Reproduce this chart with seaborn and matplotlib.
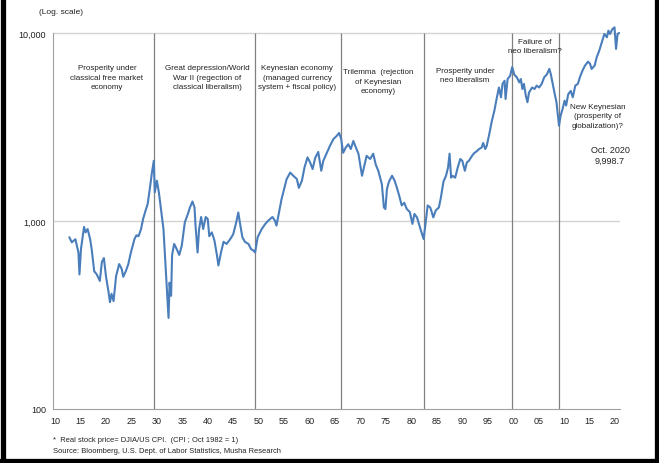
import matplotlib
matplotlib.use("Agg")
import matplotlib.pyplot as plt
import seaborn as sns
import pandas as pd

# real stock price (DJIA / US CPI)
years = [1912.8, 1913.3, 1914.0, 1914.6, 1914.8, 1915.1, 1915.7, 1916.0, 1916.4, 1916.9,
         1917.2, 1917.7, 1918.2, 1918.8, 1919.2, 1919.6, 1920.0, 1920.5, 1920.8, 1921.1,
         1921.5, 1922.0, 1922.6, 1923.1, 1923.4, 1923.9, 1924.4, 1924.9, 1925.6, 1926.0,
         1926.4, 1926.9, 1927.3, 1927.8, 1928.2, 1928.7, 1929.0, 1929.4, 1929.6, 1930.0,
         1930.4, 1930.8, 1931.3, 1931.6, 1931.9, 1932.3, 1932.5, 1932.8, 1933.0, 1933.4,
         1933.9, 1934.4, 1934.9, 1935.5, 1936.1, 1936.5, 1937.0, 1937.4, 1937.6, 1938.0,
         1938.3, 1938.7, 1939.1, 1939.6, 1940.0, 1940.3, 1940.8, 1941.3, 1941.8, 1942.1,
         1942.6, 1943.1, 1943.7, 1944.4, 1945.0, 1945.6, 1946.0, 1946.3, 1946.8, 1947.3,
         1948.0, 1948.5, 1949.0, 1949.3, 1949.8, 1950.6, 1951.3, 1951.9, 1952.7, 1953.2,
         1953.5, 1954.0, 1954.5, 1955.0, 1955.5, 1956.2, 1956.8, 1957.5, 1957.9, 1958.5,
         1959.0, 1959.6, 1960.1, 1960.6, 1961.1, 1961.7, 1962.3, 1962.7, 1963.4, 1964.0,
         1964.7, 1965.3, 1965.8, 1966.2, 1966.6, 1967.1, 1967.6, 1968.1, 1968.6, 1969.1,
         1969.6, 1970.3, 1970.8, 1971.2, 1971.9, 1972.5, 1973.0, 1973.5, 1974.2, 1974.6,
         1974.9, 1975.2, 1975.6, 1976.2, 1976.7, 1977.1, 1977.6, 1978.1, 1978.6, 1979.1,
         1979.7, 1980.2, 1980.6, 1981.1, 1981.9, 1982.4, 1982.7, 1983.2, 1983.7, 1984.0,
         1984.3, 1984.8, 1985.4, 1985.8, 1986.3, 1986.8, 1987.2, 1987.5, 1987.8, 1988.1,
         1988.6, 1989.1, 1989.6, 1990.0, 1990.5, 1990.9, 1991.3, 1991.9, 1992.4, 1992.8,
         1993.3, 1993.8, 1994.1, 1994.5, 1994.8, 1995.3, 1995.8, 1996.3, 1996.8, 1997.2,
         1997.6, 1997.9, 1998.3, 1998.5, 1998.9, 1999.4, 1999.8, 2000.2, 2000.7, 2001.2,
         2001.5, 2001.8, 2002.1, 2002.5, 2002.8, 2003.1, 2003.7, 2004.2, 2004.6, 2005.1,
         2005.6, 2006.1, 2006.6, 2007.1, 2007.4, 2007.7, 2008.1, 2008.5, 2008.8, 2009.0,
         2009.3, 2009.7, 2010.1, 2010.4, 2010.8, 2011.3, 2011.7, 2012.2, 2012.7, 2013.1,
         2013.6, 2014.1, 2014.7, 2015.1, 2015.4, 2016.0, 2016.4, 2016.9, 2017.4, 2017.9,
         2018.4, 2018.7, 2019.0, 2019.5, 2019.9, 2020.2, 2020.5, 2020.8]
price = [820, 770, 800, 680, 520, 710, 930, 870, 906, 800,
         709, 540, 520, 480, 605, 635, 510, 420, 370, 410,
         375, 510, 590, 556, 505, 540, 590, 680, 800, 840,
         830, 906, 1025, 1140, 1230, 1540, 1780, 2090, 1420, 1640,
         1420, 1160, 906, 660, 470, 305, 470, 400, 660, 755,
         709, 660, 740, 985, 1090, 1180, 1270, 1180, 945, 680,
         906, 1050, 906, 1050, 1025, 830, 870, 790, 660, 580,
         680, 775, 755, 800, 850, 985, 1110, 985, 820, 775,
         755, 709, 695, 680, 820, 906, 965, 1005, 1050, 1005,
         945, 1110, 1309, 1480, 1672, 1810, 1740, 1672, 1500, 1640,
         1925, 2180, 2050, 1890, 2165, 2330, 1850, 2090, 2305, 2510,
         2730, 2830, 2940, 2740, 2305, 2460, 2560, 2415, 2665, 2460,
         2280, 1740, 1995, 2220, 2137, 2280, 1995, 1850, 1570, 1180,
         1158, 1480, 1620, 1740, 1640, 1520, 1365, 1210, 1250, 1158,
         1115, 965, 1090, 1045, 885, 802, 930, 1210, 1180, 1115,
         1045, 1140, 1180, 1335, 1620, 1740, 1925, 2280, 1700, 1740,
         1700, 1925, 2137, 2090, 1850, 2050, 2090, 2220, 2305, 2345,
         2415, 2460, 2600, 2415, 2510, 2900, 3400, 3860, 4550, 5130,
         4550, 5365, 5570, 4455, 5690, 5915, 6590, 6010, 5820, 5460,
         5690, 5035, 5365, 4610, 4280, 4820, 5130, 5035, 5250, 5130,
         5365, 5820, 6010, 6440, 6010, 5460, 4820, 4280, 3620, 3210,
         3620, 3945, 4365, 4115, 4720, 4920, 4550, 5250, 5365, 5820,
         6300, 6710, 7040, 6850, 6440, 6710, 7430, 8050, 8930, 9880,
         9490, 10290, 9880, 10500, 10720, 8225, 9880, 10000]

era_breaks = [1929.4, 1949.3, 1966.2, 1982.5, 1999.8, 2009.0]
era_labels = ["Prosperity under\nclassical free market\neconomy",
              "Great depression/World\nWar II (regection of\nclassical liberalism)",
              "Keynesian economy\n(managed currency\nsystem + fiscal policy)",
              "Trilemma  (rejection\nof Keynesian\neconomy)",
              "Prosperity under\nneo liberalism",
              "Failure of\nneo liberalism?",
              "New Keynesian\n(prosperity of\nglobalization)?"]
# label centres in pixels of the 659x464 canvas
era_label_px = [(107, 78), (207, 78), (297, 78), (378, 82),
                (465, 76), (535, 47), (598, 117)]

xtick_years = list(range(1910, 2021, 5))
xtick_labels = [str(y)[2:] for y in xtick_years]
ytick_vals = [100, 1000, 10000]
ytick_labels = ["100", "1,000", "10,000"]

df = pd.DataFrame({"year": years, "price": price})

sns.set_style("white")
plt.rcParams["font.family"] = ["Liberation Sans", "DejaVu Sans"]

W, H = 659, 464
fig = plt.figure(figsize=(W / 100, H / 100), dpi=100)
ax = fig.add_axes([0.0804, 0.1164, 0.8606, 0.8271])

ax.set_yscale("log")
ax.set_xlim(1909.6, 2021.0)
ax.set_ylim(100, 11000)

for lvl in [1000, 10000]:
    ax.axhline(lvl, color="#d4d4d4", lw=1, zorder=0)
ax.vlines(era_breaks, 100, 10000, color="#808080", lw=0.9, zorder=1)

sns.lineplot(data=df, x="year", y="price", ax=ax, color="#4a7ebb", lw=1.5, zorder=3)

ax.set_xticks(xtick_years)
ax.set_xticklabels(xtick_labels, fontsize=6.5, color="#222222")
ax.set_yticks(ytick_vals)
ax.set_yticklabels(ytick_labels, fontsize=6.5, color="#222222")
ax.minorticks_off()
ax.tick_params(axis="both", length=3, width=0.8, color="#a0a0a0", pad=2)
ax.set_xlabel("")
ax.set_ylabel("")
for side in ["top", "right"]:
    ax.spines[side].set_visible(False)
for side in ["left", "bottom"]:
    ax.spines[side].set_color("#a0a0a0")
    ax.spines[side].set_linewidth(0.8)
ax.spines["left"].set_bounds(100, 10000)

for txt, (px, py) in zip(era_labels, era_label_px):
    fig.text(px / W, 1 - py / H, txt, fontsize=5.8, ha="center", va="center",
             color="#222222", linespacing=1.5)
fig.text(610 / W, 1 - 156 / H, "Oct. 2020\n9,998.7", fontsize=6.5, ha="center",
         va="center", color="#222222", linespacing=1.3)

fig.text(61 / W, 1 - 13 / H, "(Log. scale)", fontsize=6, ha="center", va="center",
         color="#222222")
fig.text(53 / W, 1 - 441 / H, "*  Real stock price= DJIA/US CPI.  (CPI ; Oct 1982 = 1)",
         fontsize=5.4, ha="left", va="center", color="#222222")
fig.text(53 / W, 1 - 452 / H,
         "Source: Bloomberg, U.S. Dept. of Labor Statistics, Musha Research",
         fontsize=5.4, ha="left", va="center", color="#222222")

# black frame (left, bottom, right)
frame = dict(color="black", lw=3.8, transform=fig.transFigure)
fig.add_artist(plt.Line2D([2.5 / W, 2.5 / W], [0, 1], **frame))
fig.add_artist(plt.Line2D([1 - 2.5 / W, 1 - 2.5 / W], [0, 1], **frame))
fig.add_artist(plt.Line2D([0, 1], [2.5 / H, 2.5 / H], **frame))

fig.savefig("out.png", dpi=100)
